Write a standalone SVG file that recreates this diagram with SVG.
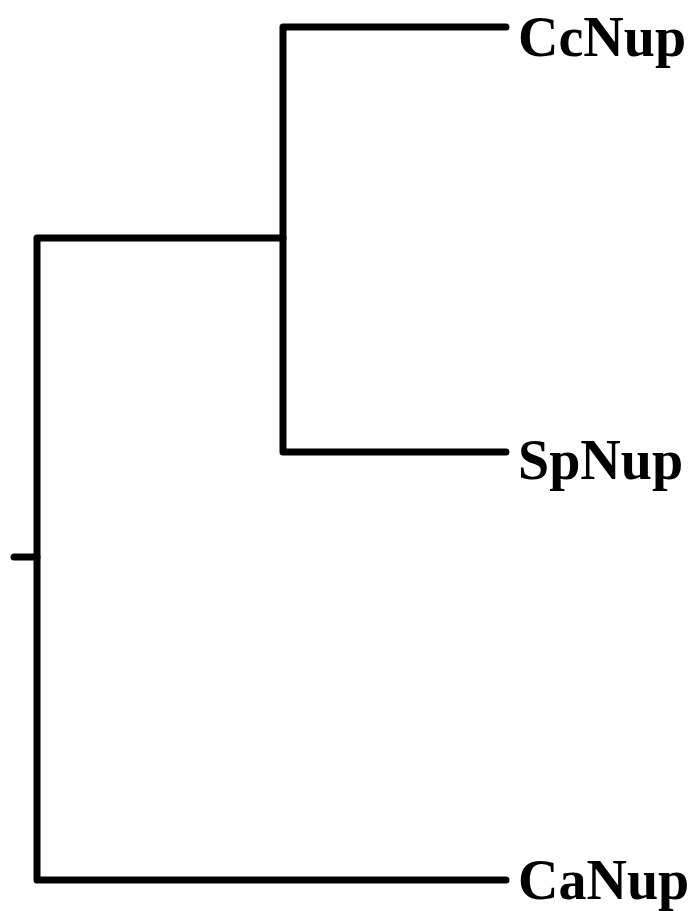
<svg xmlns="http://www.w3.org/2000/svg" width="695" height="911" viewBox="0 0 695 911">
<style>
.br{fill:none;stroke:#000;stroke-width:7;stroke-linecap:round;stroke-linejoin:round}
.lb{font-family:"Liberation Serif","Times New Roman",serif;font-weight:bold;font-size:56px;fill:#000}
</style>
<rect width="695" height="911" fill="#fff"/>
<g id="connectors">
<path class="br" d="M14,557 H37"/>
<path class="br" d="M506,880 H37 V238 H283"/>
<path class="br" d="M506,27 H283 V452 H506"/>
</g>
<g id="node-CcNup"><text class="lb" x="518" y="56">CcNup</text></g>
<g id="node-SpNup"><text class="lb" x="518" y="479">SpNup</text></g>
<g id="node-CaNup"><text class="lb" x="518" y="899">CaNup</text></g>
</svg>
